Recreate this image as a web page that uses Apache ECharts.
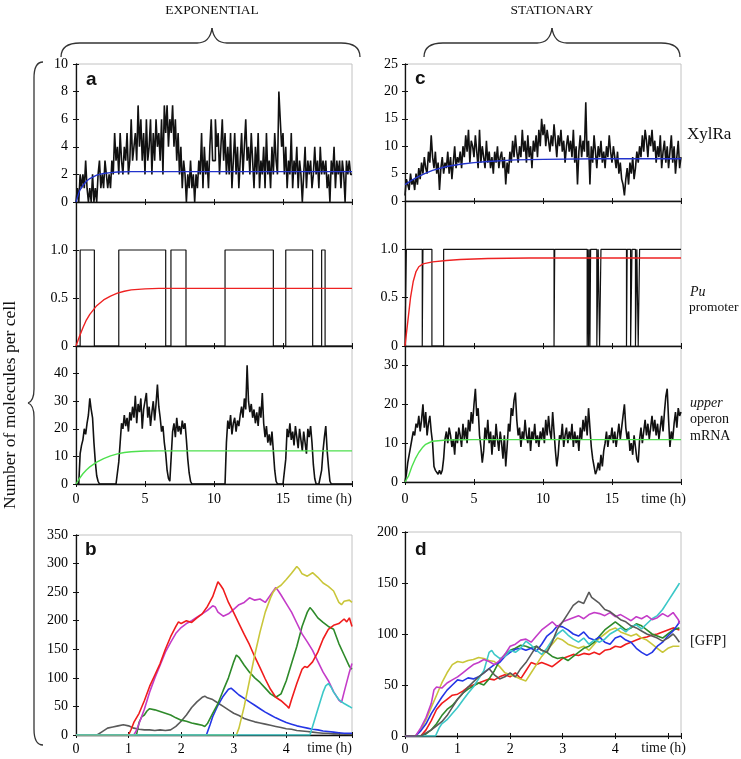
<!DOCTYPE html>
<html><head><meta charset="utf-8">
<script src="https://cdn.jsdelivr.net/npm/echarts@6.0.0/dist/echarts.min.js"></script>
<style>html,body{margin:0;padding:0;background:#fff}#c{width:741px;height:759px}</style>
</head><body><div id="c"></div>
<script>
// ---------- DATA ----------
const TIME_STEP = 0.1; // hours between samples of the long (0-20 h) traces

// a: XylRa, exponential phase (molecules), sampled every 0.1 h
const xylRaExp = [
 0,1,0,2,1,2,1,3,1,0,
 1,0,2,0,1,0,2,3,1,2,
 1,3,2,1,2,1,3,2,5,3,
 4,2,5,3,2,4,3,5,2,3,
 6,3,4,5,3,7,4,6,3,5,
 2,6,3,4,6,2,5,3,6,4,
 5,3,6,2,7,5,7,4,6,5,
 7,4,6,3,5,2,4,1,3,2,
 0,2,1,3,1,2,0,2,1,3,
 2,5,1,4,2,3,1,4,6,3,
 3,6,4,5,2,4,6,3,5,2,
 4,2,5,1,3,5,2,4,1,3,
 5,2,4,6,3,4,2,5,3,1,
 4,2,5,1,3,2,4,1,5,2,
 3,1,4,2,5,3,2,8,6,4,
 5,2,4,1,3,2,5,1,3,2,
 4,1,3,2,0,2,4,1,3,2,
 3,1,2,4,2,3,1,4,2,3,
 2,3,1,2,0,3,2,4,1,3,
 2,3,1,3,2,0,3,2,3,2,
 2];
const xylRaExpMean = [[0,0],[0.25,0.8],[0.5,1.2],[0.75,1.5],[1,1.7],[1.5,1.95],[2,2.07],[2.5,2.13],[3,2.17],[4,2.2],[20,2.2]];

// Pu promoter state (0/1), exponential phase: [time, state]
const puExpState = [[0,0],[0.3,1],[1.33,0],[3.1,1],[6.5,0],[6.88,1],[7.97,0],[10.8,1],[14.3,0],[15.2,1],[17.15,0],[17.8,1],[18.05,0],[20,0]];
const puExpMean = [[0,0],[0.25,0.1],[0.5,0.19],[0.75,0.27],[1,0.33],[1.5,0.42],[2,0.48],[2.5,0.52],[3,0.55],[3.5,0.57],[4,0.585],[5,0.595],[6,0.6],[20,0.6]];

// upper operon mRNA, exponential phase, every 0.1 h
const mrnaExp = [
 0,0,0,11,14,16,20,18,22,25,
 31,27,24,15,8,3,1,0,0,0,
 0,0,0,0,0,0,0,0,0,0,
 0,8,15,22,20,25,21,24,19,26,
 23,28,24,32,22,29,26,31,20,27,
 30,33,24,28,21,26,30,23,29,36,
 28,24,19,21,15,11,5,2,1,10,
 19,22,17,24,19,21,18,23,20,22,
 16,9,4,1,0,0,0,0,0,0,
 0,0,0,0,0,0,0,0,0,0,
 0,0,0,0,0,0,0,0,0,15,
 23,20,25,18,22,24,19,23,21,25,
 28,24,31,27,43,30,26,29,24,27,
 22,26,21,28,24,33,22,17,21,15,
 18,14,19,12,5,1,0,0,0,0,
 0,0,9,20,17,22,16,19,14,21,
 17,13,20,16,12,19,15,11,20,17,
 21,15,7,2,0,0,0,0,5,12,
 17,21,12,6,1,0,0,0,0,0,
 0,0,0,0,0,0,0,0,0,0,
 0];
const mrnaExpMean = [[0,0],[0.25,2],[0.5,3.7],[0.75,5.1],[1,6.2],[1.5,7.9],[2,9.2],[2.5,10.2],[3,10.9],[3.5,11.4],[4,11.7],[5,11.95],[6,12],[20,12]];

// c: XylRa, stationary phase, every 0.1 h
const xylRaSta = [
 1,4,3,2,5,3,4,2,5,3,
 6,4,7,5,8,6,5,9,7,12,
 8,6,9,5,7,2,6,8,5,7,
 6,9,5,8,4,7,10,6,8,7,
 9,6,10,8,12,9,13,7,11,10,
 8,12,9,6,13,7,10,8,6,11,
 7,9,6,8,5,9,7,10,6,8,
 9,6,8,3,7,5,9,7,11,8,
 12,9,7,10,8,13,9,11,7,12,
 8,10,6,11,9,12,8,13,10,15,
 12,14,10,13,11,9,12,10,14,11,
 8,12,10,13,9,11,7,10,12,9,
 11,8,13,7,10,3,9,12,8,11,
 9,18,8,11,3,10,7,12,9,6,
 10,8,11,7,9,6,10,8,12,9,
 7,10,8,6,9,5,7,4,3,1,
 4,6,3,7,5,8,4,6,9,7,
 10,8,12,9,13,11,8,12,10,13,
 9,11,7,10,8,12,6,9,11,7,
 10,6,9,12,7,10,5,8,11,6,
 8];
const xylRaStaMean = [[0,3],[0.5,3.8],[1,4.5],[1.5,5.1],[2,5.6],[3,6.3],[4,6.7],[5,7.0],[6,7.2],[8,7.5],[10,7.6],[14,7.7],[20,7.7]];

const puStaState = [[0,0],[0.1,1],[1.25,0],[1.3,1],[1.95,0],[2.8,1],[10.8,0],[10.85,1],[13.2,0],[13.25,1],[13.3,0],[13.35,1],[13.4,0],[13.45,1],[13.9,0],[14.0,1],[14.1,0],[14.2,1],[16.05,0],[16.1,1],[16.35,0],[16.45,1],[16.7,0],[16.8,1],[16.9,0],[17.0,1],[20,1]];
const puStaMean = [[0,0],[0.2,0.25],[0.4,0.5],[0.6,0.67],[0.8,0.77],[1.0,0.82],[1.3,0.85],[2,0.87],[3,0.885],[4,0.895],[6,0.905],[9,0.91],[20,0.91]];

const mrnaSta = [
 0,2,5,7,9,11,13,12,15,14,
 17,13,16,20,14,18,12,15,17,13,
 10,4,3,3,2,3,2,3,6,11,
 13,10,14,12,9,11,7,13,10,14,
 12,9,15,11,14,10,16,13,18,15,
 20,24,17,19,12,9,5,8,14,11,
 16,10,13,7,12,9,15,11,8,13,
 10,6,12,4,9,15,13,19,17,21,
 23,16,12,14,9,13,11,16,12,10,
 14,8,13,11,15,10,12,9,13,11,
 14,10,16,12,17,13,11,18,13,8,
 4,7,12,11,15,9,12,14,10,13,
 11,15,9,13,10,12,8,14,11,16,
 13,17,12,19,14,9,6,4,2,3,
 5,3,7,4,8,10,13,9,12,11,
 14,10,13,9,12,15,11,14,17,20,
 14,11,13,8,10,7,12,9,6,5,
 11,14,10,13,16,12,15,11,14,17,
 13,16,12,15,11,14,17,13,18,22,
 24,16,9,13,11,15,18,14,19,17,
 18];
const mrnaStaMean = [[0,0],[0.25,1.5],[0.5,4],[0.75,6],[1,7.6],[1.25,8.8],[1.5,9.7],[1.75,10.1],[2,10.5],[3,10.8],[5,10.9],[20,10.9]];

// b: GFP, exponential phase, individual cells [time h, molecules]
const gfpExpGray = [[0,0],[0.4,0],[0.5,6],[0.6,12],[0.7,14],[0.8,16],[0.9,18],[1.0,16],[1.1,12],[1.2,10],[1.3,9],[1.4,9],[1.5,8],[1.6,9],[1.7,8],[1.8,9],[1.9,15],[2.0,24],[2.1,35],[2.2,48],[2.3,58],[2.4,66],[2.45,68],[2.5,65],[2.6,62],[2.7,56],[2.8,50],[2.9,44],[3.0,38],[3.1,34],[3.2,29],[3.3,26],[3.4,23],[3.5,21],[3.6,19],[3.7,17],[3.8,15],[3.9,13],[4.0,11],[4.1,10],[4.2,8],[4.3,7],[4.4,6],[4.5,5],[4.6,4],[4.7,3],[4.8,3],[4.9,2],[5.0,2],[5.25,1]];
const gfpExpRed = [[0,0],[1.0,0],[1.05,10],[1.1,22],[1.2,38],[1.3,60],[1.4,85],[1.5,105],[1.6,125],[1.7,150],[1.8,172],[1.9,190],[1.95,198],[2.0,195],[2.1,200],[2.2,197],[2.3,205],[2.4,212],[2.5,225],[2.6,242],[2.7,268],[2.75,262],[2.8,255],[2.9,232],[3.0,214],[3.1,195],[3.2,176],[3.3,158],[3.4,137],[3.5,118],[3.6,98],[3.7,80],[3.8,66],[3.9,60],[4.0,52],[4.05,47],[4.1,62],[4.2,90],[4.3,115],[4.35,120],[4.4,118],[4.5,128],[4.6,145],[4.7,168],[4.8,185],[4.9,192],[5.0,195],[5.1,203],[5.15,198],[5.2,205],[5.25,190]];
const gfpExpMagenta = [[0,0],[1.1,0],[1.15,8],[1.2,20],[1.3,45],[1.4,75],[1.5,100],[1.6,122],[1.7,145],[1.8,162],[1.9,178],[2.0,188],[2.1,195],[2.2,200],[2.3,206],[2.4,212],[2.5,218],[2.6,226],[2.65,224],[2.7,215],[2.8,208],[2.9,212],[3.0,220],[3.1,228],[3.2,232],[3.3,240],[3.4,236],[3.5,238],[3.6,232],[3.7,245],[3.8,258],[3.85,252],[3.9,245],[4.0,230],[4.1,215],[4.2,196],[4.3,177],[4.4,163],[4.5,148],[4.6,129],[4.7,110],[4.8,95],[4.9,76],[5.0,61],[5.05,57],[5.1,75],[5.2,110],[5.25,125]];
const gfpExpGreen = [[0,0],[1.15,0],[1.2,22],[1.25,32],[1.3,35],[1.35,42],[1.4,46],[1.5,44],[1.6,41],[1.7,38],[1.8,35],[1.9,30],[2.0,26],[2.1,24],[2.2,21],[2.3,19],[2.4,17],[2.45,15],[2.5,20],[2.6,38],[2.7,55],[2.8,78],[2.9,100],[3.0,128],[3.05,140],[3.1,136],[3.2,122],[3.3,110],[3.4,100],[3.5,92],[3.6,82],[3.7,72],[3.8,66],[3.9,72],[4.0,95],[4.1,125],[4.2,155],[4.3,190],[4.4,215],[4.45,223],[4.5,218],[4.6,205],[4.7,197],[4.8,190],[4.9,185],[5.0,160],[5.1,140],[5.2,120],[5.25,115]];
const gfpExpBlue = [[0,0],[2.48,0],[2.55,18],[2.6,32],[2.7,52],[2.8,68],[2.9,80],[2.95,82],[3.0,78],[3.1,70],[3.2,64],[3.3,58],[3.4,52],[3.5,46],[3.6,40],[3.7,35],[3.8,30],[3.9,26],[4.0,22],[4.1,19],[4.2,16],[4.3,14],[4.4,12],[4.5,10],[4.6,9],[4.7,7],[4.8,6],[4.9,5],[5.0,4],[5.1,3],[5.25,3]];
const gfpExpYellow = [[0,0],[3.05,0],[3.1,12],[3.2,50],[3.3,95],[3.4,140],[3.5,180],[3.6,215],[3.7,240],[3.75,250],[3.8,256],[3.9,262],[4.0,272],[4.1,283],[4.2,295],[4.25,290],[4.3,282],[4.4,278],[4.5,284],[4.6,276],[4.7,266],[4.8,260],[4.9,252],[5.0,232],[5.05,228],[5.1,234],[5.2,236],[5.25,232]];
const gfpExpCyan = [[0,0],[4.45,0],[4.5,15],[4.6,45],[4.7,75],[4.75,86],[4.8,90],[4.85,84],[4.9,75],[5.0,62],[5.1,55],[5.2,50],[5.25,47]];

// d: GFP, stationary phase
const gfpStaMagenta = [[0,0],[0.2,0],[0.3,8],[0.4,18],[0.5,32],[0.55,45],[0.6,48],[0.7,47],[0.8,52],[0.9,55],[1.0,58],[1.1,62],[1.2,66],[1.3,70],[1.4,72],[1.5,75],[1.6,73],[1.7,70],[1.8,74],[1.9,80],[2.0,88],[2.1,90],[2.2,94],[2.3,95],[2.4,92],[2.5,98],[2.6,104],[2.7,108],[2.8,112],[2.9,107],[3.0,112],[3.1,114],[3.2,116],[3.3,118],[3.4,115],[3.5,119],[3.6,121],[3.7,120],[3.8,118],[3.9,121],[4.0,117],[4.1,119],[4.2,116],[4.3,113],[4.4,117],[4.5,115],[4.6,118],[4.7,114],[4.8,116],[4.9,120],[5.0,117],[5.1,121],[5.2,114],[5.22,110]];
const gfpStaCyan = [[0,0],[0.58,0],[0.65,8],[0.7,12],[0.8,16],[0.9,22],[1.0,28],[1.1,35],[1.2,42],[1.3,48],[1.4,56],[1.5,64],[1.6,82],[1.65,84],[1.7,80],[1.8,76],[1.9,78],[2.0,84],[2.1,82],[2.2,86],[2.3,93],[2.4,89],[2.5,84],[2.6,80],[2.7,86],[2.8,94],[2.9,100],[3.0,104],[3.1,99],[3.2,95],[3.3,92],[3.4,96],[3.5,90],[3.6,94],[3.7,92],[3.8,95],[3.9,100],[4.0,103],[4.1,106],[4.2,102],[4.3,107],[4.4,109],[4.5,105],[4.6,110],[4.7,115],[4.8,118],[4.9,124],[5.0,132],[5.1,140],[5.2,148],[5.22,150]];
const gfpStaGray = [[0,0],[0.3,0],[0.4,3],[0.5,6],[0.6,10],[0.7,14],[0.8,20],[0.9,28],[1.0,36],[1.1,42],[1.2,48],[1.3,53],[1.4,58],[1.5,62],[1.6,66],[1.7,60],[1.8,56],[1.9,58],[2.0,62],[2.1,58],[2.2,66],[2.3,72],[2.4,80],[2.5,88],[2.6,84],[2.7,82],[2.8,92],[2.9,105],[3.0,112],[3.1,120],[3.2,128],[3.3,132],[3.4,130],[3.5,141],[3.55,136],[3.6,134],[3.7,130],[3.8,124],[3.9,122],[4.0,118],[4.1,114],[4.2,112],[4.3,108],[4.4,106],[4.5,103],[4.6,100],[4.7,98],[4.8,96],[4.9,93],[5.0,96],[5.1,100],[5.15,97],[5.22,92]];
const gfpStaBlue = [[0,0],[0.2,0],[0.3,5],[0.4,12],[0.5,22],[0.6,30],[0.7,38],[0.8,45],[0.9,50],[1.0,55],[1.1,54],[1.2,57],[1.3,56],[1.4,58],[1.5,62],[1.6,66],[1.7,70],[1.8,72],[1.9,78],[2.0,82],[2.1,85],[2.2,86],[2.3,84],[2.4,86],[2.5,83],[2.6,90],[2.7,98],[2.8,102],[2.9,108],[3.0,107],[3.1,104],[3.2,100],[3.3,98],[3.4,102],[3.5,96],[3.6,94],[3.7,97],[3.8,92],[3.9,90],[4.0,96],[4.1,98],[4.2,94],[4.3,92],[4.4,86],[4.5,82],[4.6,79],[4.7,82],[4.8,88],[4.9,92],[5.0,98],[5.1,103],[5.2,110],[5.22,113]];
const gfpStaGreen = [[0,0],[0.3,0],[0.4,2],[0.5,6],[0.6,12],[0.7,20],[0.8,26],[0.9,30],[1.0,36],[1.1,42],[1.2,46],[1.3,49],[1.4,52],[1.5,50],[1.6,56],[1.7,64],[1.8,74],[1.9,80],[2.0,84],[2.1,86],[2.2,89],[2.3,88],[2.4,86],[2.5,88],[2.6,84],[2.7,82],[2.8,78],[2.9,76],[3.0,77],[3.1,74],[3.2,78],[3.3,82],[3.4,86],[3.5,88],[3.6,92],[3.7,98],[3.8,104],[3.9,108],[4.0,112],[4.1,108],[4.2,104],[4.3,106],[4.4,110],[4.5,108],[4.6,104],[4.7,100],[4.8,98],[4.9,96],[5.0,100],[5.1,104],[5.22,106]];
const gfpStaYellow = [[0,0],[0.2,0],[0.3,6],[0.4,16],[0.5,28],[0.6,40],[0.7,52],[0.8,62],[0.9,70],[1.0,73],[1.1,72],[1.2,74],[1.3,75],[1.4,77],[1.5,76],[1.6,74],[1.7,73],[1.8,68],[1.9,62],[2.0,60],[2.1,58],[2.2,56],[2.3,54],[2.4,62],[2.5,70],[2.6,78],[2.7,84],[2.8,90],[2.9,96],[3.0,94],[3.1,90],[3.2,88],[3.3,86],[3.4,88],[3.5,84],[3.6,90],[3.7,96],[3.8,100],[3.9,104],[4.0,106],[4.1,102],[4.2,100],[4.3,98],[4.4,100],[4.5,96],[4.6,94],[4.7,90],[4.8,86],[4.9,82],[5.0,86],[5.1,88],[5.22,88]];
const gfpStaRed = [[0,0],[0.3,0],[0.4,6],[0.5,15],[0.6,26],[0.7,32],[0.8,36],[0.9,40],[1.0,41],[1.1,44],[1.2,48],[1.3,50],[1.4,52],[1.5,54],[1.6,56],[1.7,55],[1.8,58],[1.9,60],[2.0,58],[2.1,62],[2.2,56],[2.3,64],[2.4,72],[2.5,70],[2.6,72],[2.7,70],[2.8,68],[2.9,72],[3.0,76],[3.1,78],[3.2,80],[3.3,79],[3.4,81],[3.5,80],[3.6,82],[3.7,80],[3.8,84],[3.9,85],[4.0,88],[4.1,87],[4.2,90],[4.3,92],[4.4,94],[4.5,96],[4.6,97],[4.7,99],[4.8,100],[4.9,102],[5.0,104],[5.1,106],[5.22,104]];

// tick labels
const xTicksLong = [0,5,10,15];
const xTicksShort = [0,1,2,3,4];
const yTicksA = [0,2,4,6,8,10];
const yTicksPu = [0,0.5,1]; const yTextPu = ['0','0.5','1.0'];
const yTicksMrnaExp = [0,10,20,30,40];
const yTicksB = [0,50,100,150,200,250,300,350];
const yTicksC = [0,5,10,15,20,25];
const yTicksMrnaSta = [0,10,20,30];
const yTicksD = [0,50,100,150,200];

// ---------- LAYOUT ----------
const SERIF = '"Liberation Serif","Times New Roman",serif';
const SANS = '"Liberation Sans",Arial,sans-serif';
const PW = 276;
const panels = [
 {left:76, top:64,  height:138, xmax:20,   xint:5, ymax:10,  yint:2,   yT:yTicksA,       ym:8},
 {left:76, top:202, height:144, xmax:20,   xint:5, ymax:1.5, yint:0.5, yT:yTicksPu, yS:yTextPu, ym:8},
 {left:76, top:346, height:138, xmax:20,   xint:5, ymax:50,  yint:10,  yT:yTicksMrnaExp, ym:8, xT:xTicksLong, xm:8},
 {left:76, top:535, height:200, xmax:5.25, xint:1, ymax:350, yint:50,  yT:yTicksB,       ym:8, xT:xTicksShort, xm:7},
 {left:405, top:64,  height:137, xmax:20,   xint:5, ymax:25,  yint:5,   yT:yTicksC,       ym:7},
 {left:405, top:201, height:145, xmax:20,   xint:5, ymax:1.5, yint:0.5, yT:yTicksPu, yS:yTextPu, ym:7},
 {left:405, top:346, height:136, xmax:20,   xint:5, ymax:35,  yint:10,  yT:yTicksMrnaSta, ym:7, xT:xTicksLong, xm:10},
 {left:405, top:532, height:204, xmax:5.25, xint:1, ymax:200, yint:50,  yT:yTicksD,       ym:7, xT:xTicksShort, xm:6}
];

function fmt(ticks, texts) {
  return function (v) {
    const i = ticks.findIndex(t => Math.abs(t - v) < 1e-9);
    return i < 0 ? '' : (texts ? texts[i] : String(ticks[i]));
  };
}

const grid = [], xAxis = [], yAxis = [];
panels.forEach((p, i) => {
  grid.push({left:p.left, top:p.top, width:PW, height:p.height, show:true, borderColor:'#c2c2c2', borderWidth:1, backgroundColor:'transparent'});
  const tick = {show:true, inside:true, length:3, lineStyle:{color:'#111', width:1}};
  const lab = {fontFamily:SERIF, fontSize:14, color:'#000', showMinLabel:true, showMaxLabel:true, hideOverlap:false};
  xAxis.push({type:'value', gridIndex:i, min:0, max:p.xmax, interval:p.xint, position:'bottom',
    axisLine:{show:true, onZero:false, lineStyle:{color:'#111', width:1.3}}, axisTick:tick, splitLine:{show:false},
    axisLabel:Object.assign({}, lab, {show:!!p.xT, margin:p.xm || 8, formatter:fmt(p.xT || [])})});
  xAxis.push({type:'value', gridIndex:i, min:0, max:p.xmax, interval:p.xint, position:'top',
    axisLine:{show:false}, axisTick:tick, splitLine:{show:false}, axisLabel:{show:false}});
  yAxis.push({type:'value', gridIndex:i, min:0, max:p.ymax, interval:p.yint, position:'left',
    axisLine:{show:true, onZero:false, lineStyle:{color:'#111', width:1.3}}, axisTick:tick, splitLine:{show:false},
    axisLabel:Object.assign({}, lab, {margin:p.ym, formatter:fmt(p.yT, p.yS)})});
  yAxis.push({type:'value', gridIndex:i, min:0, max:p.ymax, interval:p.yint, position:'right',
    axisLine:{show:false}, axisTick:tick, splitLine:{show:false}, axisLabel:{show:false}});
});

function timed(vals) { return vals.map((v, i) => [Math.round(i * TIME_STEP * 100) / 100, v]); }
function line(gi, data, color, width, step) {
  return {type:'line', xAxisIndex:2*gi, yAxisIndex:2*gi, data:data, showSymbol:false, symbol:'none',
    step:step || false, lineStyle:{color:color, width:width}, itemStyle:{color:color}, silent:true, animation:false};
}

const BLACK = '#111';
const C = {gray:'#5a5a5a', red:'#f01c1c', magenta:'#c43cc8', green:'#2e8a2a', blue:'#2536e6', yellow:'#c9c63a', cyan:'#3cc8c8'};
const series = [
  line(0, timed(xylRaExp), BLACK, 1.6, 'end'),
  line(0, xylRaExpMean, '#2233cc', 1.4),
  line(1, puExpState, BLACK, 1.2, 'end'),
  line(1, puExpMean, '#ee2222', 1.4),
  line(2, timed(mrnaExp), BLACK, 1.6),
  line(2, mrnaExpMean, '#4ee04e', 1.4),
  line(3, gfpExpGray, C.gray, 1.6),
  line(3, gfpExpBlue, C.blue, 1.6),
  line(3, gfpExpGreen, C.green, 1.6),
  line(3, gfpExpMagenta, C.magenta, 1.6),
  line(3, gfpExpRed, C.red, 1.6),
  line(3, gfpExpYellow, C.yellow, 1.6),
  line(3, gfpExpCyan, C.cyan, 1.6),
  line(4, timed(xylRaSta), BLACK, 1.6, 'end'),
  line(4, xylRaStaMean, '#2233cc', 1.4),
  line(5, puStaState, BLACK, 1.2, 'end'),
  line(5, puStaMean, '#ee2222', 1.4),
  line(6, timed(mrnaSta), BLACK, 1.6),
  line(6, mrnaStaMean, '#4ee04e', 1.4),
  line(7, gfpStaRed, C.red, 1.6),
  line(7, gfpStaYellow, C.yellow, 1.6),
  line(7, gfpStaGreen, C.green, 1.6),
  line(7, gfpStaBlue, C.blue, 1.6),
  line(7, gfpStaCyan, C.cyan, 1.6),
  line(7, gfpStaMagenta, C.magenta, 1.6),
  line(7, gfpStaGray, C.gray, 1.6)
];

function txt(text, x, y, opts) {
  opts = opts || {};
  return {type:'text', x:x, y:y, rotation:opts.rot || 0, silent:true, z:10,
    style:{text:text, x:0, y:0, fill:opts.color || '#111',
      font:(opts.style || 'normal') + ' ' + (opts.weight || 'normal') + ' ' + (opts.size || 14) + 'px ' + (opts.family || SERIF),
      align:opts.align || 'left', textAlign:opts.align || 'left', verticalAlign:'middle', textVerticalAlign:'middle'}};
}
const braceStyle = {fill:'none', stroke:'#333', lineWidth:1.3};
function curve(x1, y1, cx, cy, x2, y2) {
  return {type:'bezierCurve', silent:true, shape:{x1:x1, y1:y1, cpx1:cx, cpy1:cy, x2:x2, y2:y2}, style:braceStyle};
}
function seg(x1, y1, x2, y2) {
  return {type:'line', silent:true, shape:{x1:x1, y1:y1, x2:x2, y2:y2}, style:braceStyle};
}
function hBrace(xa, xm, xb, yEnd, yBar, yTip) {
  return [curve(xa, yEnd, xa, yBar, xa + 19, yBar), seg(xa + 19, yBar, xm - 15, yBar),
          curve(xm - 15, yBar, xm - 2, yBar, xm, yTip), curve(xm, yTip, xm + 2, yBar, xm + 15, yBar),
          seg(xm + 15, yBar, xb - 19, yBar), curve(xb - 19, yBar, xb, yBar, xb, yEnd)];
}
function vBrace(xEnd, xBar, xTip, ya, ym, yb) {
  return [curve(xEnd, ya, xBar, ya, xBar, ya + 16), seg(xBar, ya + 16, xBar, ym - 14),
          curve(xBar, ym - 14, xBar, ym - 2, xTip, ym), curve(xTip, ym, xBar, ym + 2, xBar, ym + 14),
          seg(xBar, ym + 14, xBar, yb - 16), curve(xBar, yb - 16, xBar, yb, xEnd, yb)];
}
const graphic = [].concat(
  hBrace(61, 212, 360, 57, 43, 28),
  hBrace(424, 552, 680, 57, 43, 28),
  vBrace(43, 34, 28, 62, 403, 745),
  [
  txt('EXPONENTIAL', 212, 10, {align:'center', size:13.5}),
  txt('STATIONARY', 552, 10, {align:'center', size:13.5}),
  txt('Number of molecules per cell', 10, 405, {align:'center', size:17.5, rot:Math.PI/2}),
  txt('XylRa', 687, 135, {size:17}),
  txt('Pu', 690, 292, {size:14, style:'italic'}),
  txt('promoter', 689, 307, {size:13.5}),
  txt('upper', 690, 403, {size:14, style:'italic'}),
  txt('operon', 690, 419, {size:14}),
  txt('mRNA', 690, 436, {size:14}),
  txt('[GFP]', 690, 641, {size:14.5}),
  txt('time (h)', 352, 499, {align:'right', size:14}),
  txt('time (h)', 686, 499, {align:'right', size:14}),
  txt('time (h)', 352, 748, {align:'right', size:14}),
  txt('time (h)', 686, 748, {align:'right', size:14}),
  txt('a', 86, 80, {family:SANS, weight:'bold', size:19, color:'#111'}),
  txt('b', 85, 550, {family:SANS, weight:'bold', size:19, color:'#111'}),
  txt('c', 415, 79, {family:SANS, weight:'bold', size:19, color:'#111'}),
  txt('d', 415, 550, {family:SANS, weight:'bold', size:19, color:'#111'})
  ]);

const chart = echarts.init(document.getElementById('c'), null, {renderer:'canvas'});
chart.setOption({
  animation:false, backgroundColor:'#fff',
  textStyle:{fontFamily:SERIF},
  grid:grid, xAxis:xAxis, yAxis:yAxis, series:series, graphic:graphic
});
</script></body></html>
